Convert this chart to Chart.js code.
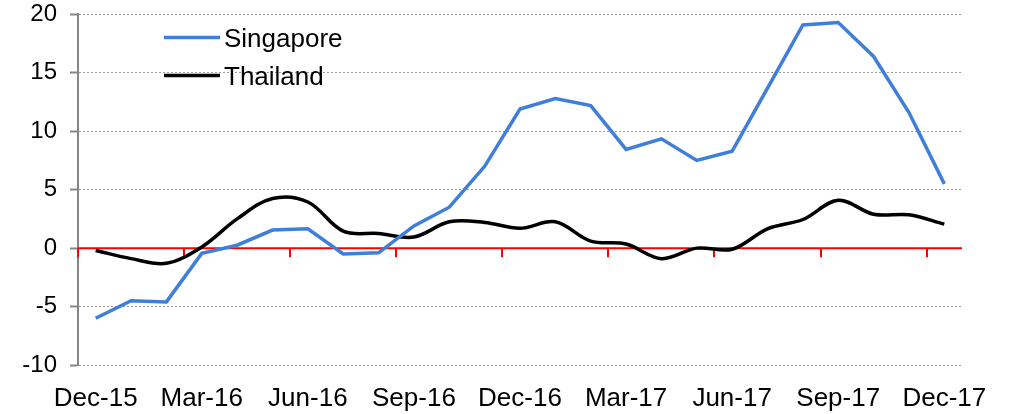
<!DOCTYPE html>
<html>
<head>
<meta charset="utf-8">
<script src="https://cdn.jsdelivr.net/npm/chart.js@4.4.0/dist/chart.umd.min.js"></script>
<style>
  body { margin: 0; background: #fff; overflow: hidden; }
  /* chart.js keeps ~27px above the plot; pull the canvas up so the plot starts at y=14 */
  #chart { display: block; margin-top: -13px; }
</style>
</head>
<body>
<canvas id="chart" width="1009" height="427"></canvas>
<script>
// Monthly categories, labelled every 3rd month
var months = ["Dec-15", "Jan-16", "Feb-16", "Mar-16", "Apr-16", "May-16", "Jun-16",
  "Jul-16", "Aug-16", "Sep-16", "Oct-16", "Nov-16", "Dec-16", "Jan-17", "Feb-17",
  "Mar-17", "Apr-17", "May-17", "Jun-17", "Jul-17", "Aug-17", "Sep-17", "Oct-17",
  "Nov-17", "Dec-17"];

var singapore = [-6.0, -4.5, -4.6, -0.45, 0.25, 1.55, 1.65, -0.5, -0.4, 1.9, 3.5, 7.0,
  11.9, 12.8, 12.2, 8.45, 9.35, 7.5, 8.3, 13.7, 19.1, 19.3, 16.4, 11.6, 5.5];

var thailand = [-0.2, -0.9, -1.3, 0.1, 2.5, 4.25, 3.95, 1.45, 1.25, 0.95, 2.25, 2.2,
  1.7, 2.25, 0.6, 0.35, -0.9, 0.0, -0.1, 1.65, 2.45, 4.1, 2.9, 2.85, 2.05];

var yMin = -10;
var yMax = 20;
var yStep = 5;
var labelEvery = 3;

var FONT = "'Liberation Sans', Arial, sans-serif";

// red zero line with small tick marks every 3 months
var zeroLinePlugin = {
  id: "zeroLine",
  beforeDatasetsDraw: function (chart) {
    var ctx = chart.ctx;
    var x = chart.scales.x;
    var y0 = chart.scales.y.getPixelForValue(0);
    var half = (x.getPixelForValue(1) - x.getPixelForValue(0)) / 2;
    ctx.save();
    ctx.strokeStyle = "#ff0000";
    ctx.lineWidth = 2;
    ctx.beginPath();
    ctx.moveTo(chart.chartArea.left, y0);
    ctx.lineTo(chart.chartArea.right, y0);
    ctx.stroke();
    for (var i = 0; i < months.length; i += labelEvery) {
      var px = Math.round(x.getPixelForValue(i) - half);
      ctx.beginPath();
      ctx.moveTo(px, y0);
      ctx.lineTo(px, y0 + 9);
      ctx.stroke();
    }
    ctx.restore();
  },
};

// legend drawn inside the plot, stacked, placed from the top of the plot
var insideLegend = {
  id: "insideLegend",
  afterDatasetsDraw: function (chart) {
    var ctx = chart.ctx;
    var top = chart.chartArea.top;
    ctx.save();
    ctx.font = "26px " + FONT;
    ctx.textBaseline = "middle";
    ctx.fillStyle = "#000";
    chart.data.datasets.forEach(function (ds, i) {
      var yy = top + 23 + i * 38;
      ctx.strokeStyle = ds.borderColor;
      ctx.lineWidth = 3.5;
      ctx.beginPath();
      ctx.moveTo(164, yy);
      ctx.lineTo(220, yy);
      ctx.stroke();
      ctx.fillText(ds.label, 224, yy + 2);
    });
    ctx.restore();
  },
};

var ctx = document.getElementById("chart");
var chart = new Chart(ctx, {
  type: "line",
  data: {
    labels: months,
    datasets: [
      {
        label: "Singapore",
        data: singapore,
        borderColor: "#3f7fd9",
        borderWidth: 3.5,
        pointRadius: 0,
        tension: 0,
      },
      {
        label: "Thailand",
        data: thailand,
        borderColor: "#000000",
        borderWidth: 3.5,
        pointRadius: 0,
        tension: 0.35,
      },
    ],
  },
  options: {
    responsive: false,
    animation: false,
    layout: { padding: { left: 0, right: 47, top: 0, bottom: 0 } },
    plugins: {
      legend: { display: false },
      tooltip: { enabled: false },
    },
    scales: {
      x: {
        offset: true,
        grid: { display: false, drawTicks: false },
        border: { display: false },
        ticks: {
          autoSkip: false,
          maxRotation: 0,
          padding: 18,
          color: "#000",
          font: { family: FONT, size: 26 },
          callback: function (value, index) {
            return index % labelEvery === 0 ? months[index] : "";
          },
        },
        afterFit: function (scale) {
          scale.height = 49;
        },
      },
      y: {
        min: yMin,
        max: yMax,
        grid: {
          color: "#9a9a9a",
          lineWidth: 1,
          tickLength: 8,
          tickColor: "#868686",
          tickWidth: 2,
        },
        border: { display: true, color: "#868686", width: 2, dash: [2, 2] },
        ticks: {
          stepSize: yStep,
          padding: 13,
          color: "#000",
          font: { family: FONT, size: 24 },
        },
        afterFit: function (scale) {
          scale.width = 78;
        },
      },
    },
  },
  plugins: [zeroLinePlugin, insideLegend],
});
</script>
</body>
</html>
